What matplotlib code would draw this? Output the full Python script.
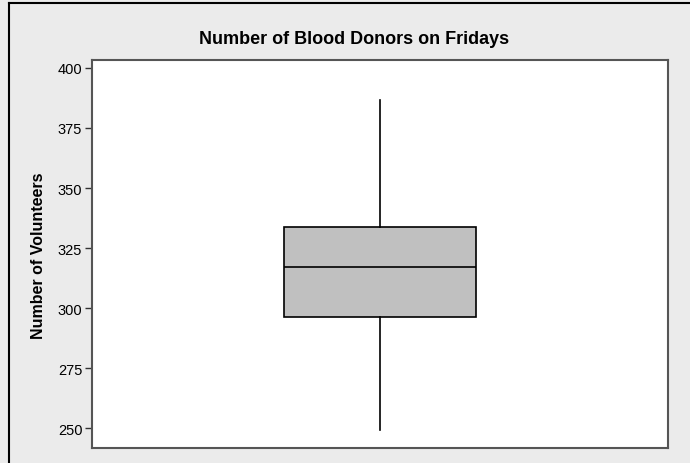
import matplotlib
matplotlib.use("Agg")
import matplotlib.pyplot as plt
from matplotlib.lines import Line2D

# box plot summary
q1 = 296.3
median = 317.1
q3 = 333.6
whisker_low = 249.3
whisker_high = 386.7
yticks = [250, 275, 300, 325, 350, 375, 400]

plt.rcParams['font.family'] = ['Liberation Sans', 'DejaVu Sans']

fig = plt.figure(figsize=(6.9, 4.64), dpi=100)
fig.patch.set_facecolor('#ebebeb')

# outer frame (top and left edges visible)
fig.add_artist(Line2D([9/690, 9/690], [0, 1 - 4/464], color='black', lw=1.5, transform=fig.transFigure))
fig.add_artist(Line2D([9/690, 1], [1 - 4/464, 1 - 4/464], color='black', lw=1.5, transform=fig.transFigure))

ax = fig.add_axes([92/690, 15/464, 576/690, 388/464])
ax.set_facecolor('white')

stats = [{'med': median, 'q1': q1, 'q3': q3, 'whislo': whisker_low,
          'whishi': whisker_high, 'fliers': []}]
ax.bxp(stats, positions=[1], widths=0.332, showfliers=False, showcaps=False,
       patch_artist=True,
       boxprops=dict(facecolor='#c0c0c0', edgecolor='black', linewidth=1.2),
       medianprops=dict(color='black', linewidth=1.2),
       whiskerprops=dict(color='black', linewidth=1.2))

ax.set_xlim(0.5, 1.5)
ax.set_ylim(241.8, 403.3)
ax.set_xticks([])
ax.set_yticks(yticks)
ax.tick_params(axis='y', direction='out', length=5, width=1, color='#333333',
               labelsize=10.5, pad=2)
for s in ax.spines.values():
    s.set_color('#555555')
    s.set_linewidth(1.5)

fig.text(354.5/690, 1 - 39.5/464, 'Number of Blood Donors on Fridays', fontsize=13,
         fontweight='bold', ha='center', va='center')
fig.text(38.5/690, 1 - 256/464, 'Number of Volunteers', fontsize=11.5,
         fontweight='bold', rotation=90, ha='center', va='center')

fig.savefig('out.png', dpi=100, facecolor=fig.get_facecolor())
